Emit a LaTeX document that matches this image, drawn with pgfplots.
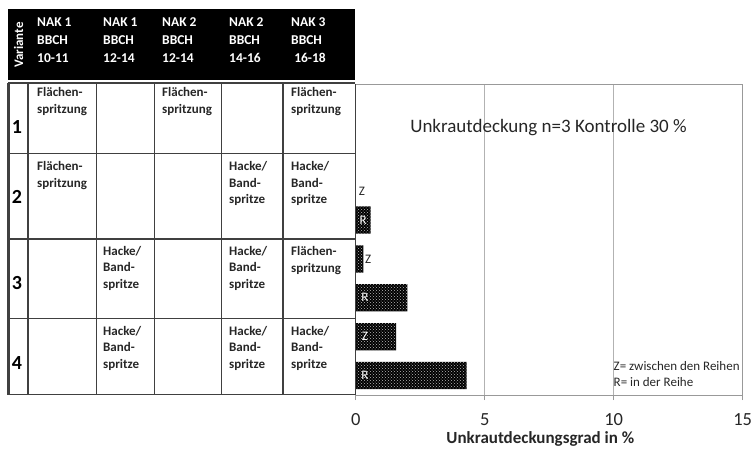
\documentclass[border=0pt]{standalone}
\usepackage{pgfplots}
\pgfplotsset{compat=1.18}
\usepackage{fontspec}
\setmainfont{Carlito}
\usetikzlibrary{patterns}
\definecolor{txt}{HTML}{262626}
\definecolor{tline}{HTML}{404040}
\begin{document}
\begin{tikzpicture}
\useasboundingbox (0pt,0pt) rectangle (753pt,448pt);
\begin{axis}[
  at={(355.7pt,53pt)}, anchor=south west,
  scale only axis, width=387pt, height=311pt,
  xmin=0, xmax=15, ymin=0.5, ymax=8.5, y dir=reverse,
  xtick={0,5,10,15}, ytick=\empty,
  xtick pos=left, tick align=outside, major tick length=5pt,
  xtick style={draw=gray!80, line width=0.8pt},
  xmajorgrids, grid style={draw=gray!60, line width=0.8pt},
  axis line style={draw=gray!80, line width=0.8pt},
  /pgf/number format/assume math mode=true,
  xticklabel style={font=\fontsize{18.5}{21}\selectfont, text=txt, anchor=base, inner sep=0pt, yshift=-25.5pt},
  xlabel={Unkrautdeckungsgrad in \%},
  xlabel style={font=\fontsize{17}{20}\selectfont\bfseries, text=txt, at={(axis description cs:0.477,0)}, anchor=base, inner sep=0pt, yshift=-48pt},
  clip=false,
]
\addplot[xbar, bar width=0.7, fill=black, draw=none,
  postaction={pattern=crosshatch dots, pattern color=gray!55}]
  coordinates {(0,3) (0.58,4) (0.30,5) (2.00,6) (1.57,7) (4.30,8)};
\draw[tline, line width=1.4pt] (axis cs:0,0.5) -- (axis cs:0,8.5);
\node[text=white, font=\fontsize{13}{15}\selectfont] at (axis cs:0.29,4) {R};
\node[text=white, font=\fontsize{13}{15}\selectfont] at (axis cs:0.36,6) {R};
\node[text=white, font=\fontsize{13}{15}\selectfont] at (axis cs:0.36,8) {R};
\node[text=white, font=\fontsize{13}{15}\selectfont] at (axis cs:0.36,7) {Z};
\node[text=txt, font=\fontsize{13}{15}\selectfont] at (axis cs:0.48,5) {Z};
\node[text=txt, font=\fontsize{13}{15}\selectfont] at (axis cs:0.24,3.26) {Z};
\end{axis}
\begin{scope}[shift={(0pt,448pt)},x=1pt,y=-1pt]
 % header
 \fill[black] (8,9) rectangle (355,80);
 \node[text=white, font=\fontsize{13}{15}\selectfont\bfseries, rotate=90] at (18.5,45) {Variante};
 \foreach \xx/\a/\b in {37/NAK 1/10-11, 103/NAK 1/12-14, 162/NAK 2/12-14, 229/NAK 2/14-16, 291/NAK 3/\ 16-18}{
   \node[text=white, font=\fontsize{13.5}{15}\selectfont\bfseries, anchor=base west, inner sep=0pt] at (\xx,26.7) {\a};
   \node[text=white, font=\fontsize{13.5}{15}\selectfont\bfseries, anchor=base west, inner sep=0pt] at (\xx,44.3) {BBCH};
   \node[text=white, font=\fontsize{13.5}{15}\selectfont\bfseries, anchor=base west, inner sep=0pt] at (\xx,62.2) {\b};
 }
 % body grid
 \draw[tline, line width=1.3pt] (8,83) -- (355,83);
 \foreach \yy in {153.3,239,318.3}{\draw[tline, line width=1.3pt] (8,\yy) -- (355,\yy);}
 \draw[tline, line width=1.3pt] (8,394.5) -- (355,394.5);
 \draw[tline, line width=2.2pt] (8.5,83) -- (8.5,394.5);
 \foreach \xx in {28,96.7,154.3,221.7,283}{\draw[tline, line width=1.3pt] (\xx,83) -- (\xx,394.5);}
 % row numbers
 \foreach \yy/\n in {133.3/1,204/2,289/3,369.3/4}{
   \node[text=black, font=\fontsize{20}{24}\selectfont\bfseries, anchor=base, inner sep=0pt] at (17,\yy) {\n};
 }
 % cell texts
 \tikzset{cell/.style={text=txt, font=\fontsize{13}{15}\selectfont\bfseries, anchor=base west, inner sep=0pt}}
 \foreach \xx/\yy in {37/96.7,162/96.7,291/96.7,37/171,291/255}{
   \node[cell] at (\xx,\yy) {Flächen-};
   \node[cell] at (\xx,\yy+17) {spritzung};
 }
 \foreach \xx/\yy in {229/171,291/171,103/255,229/255,103/335,229/335,291/335}{
   \node[cell] at (\xx,\yy) {Hacke/};
   \node[cell] at (\xx,\yy+16.5) {Band-};
   \node[cell] at (\xx,\yy+33) {spritze};
 }
 % annotations in plot
 \node[text=txt, font=\fontsize{19}{22}\selectfont, anchor=base] at (548.5,132.7) {Unkrautdeckung n=3 Kontrolle 30 \%};
 \node[text=txt, font=\fontsize{13}{15}\selectfont, anchor=base west, inner sep=0pt] at (613.5,370) {Z= zwischen den Reihen};
 \node[text=txt, font=\fontsize{13}{15}\selectfont, anchor=base west, inner sep=0pt] at (613.5,386.7) {R= in der Reihe};
\end{scope}
\end{tikzpicture}
\end{document}
